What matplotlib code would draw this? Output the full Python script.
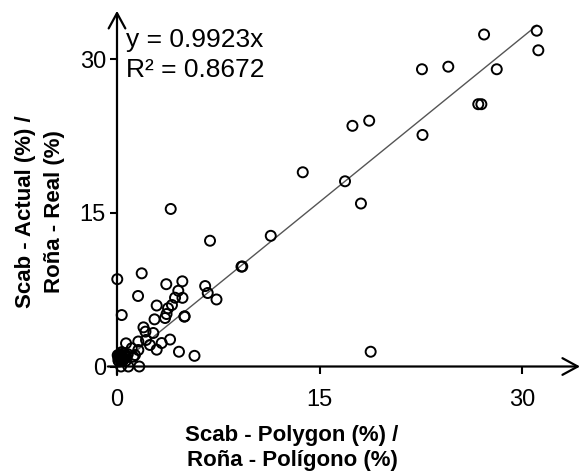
import matplotlib
matplotlib.use('Agg')
import matplotlib.pyplot as plt

# scab severity, polygon estimate vs actual (%)
polygon_pct = [27.19, 31.09, 31.21, 22.59, 24.54, 28.13, 26.76, 26.99, 18.68, 17.44,
               22.63, 13.76, 16.89, 18.07, 11.39, 18.79, 3.98, 6.89, 9.22, 9.28,
               0.02, 1.83, 3.65, 4.84, 6.53, 1.56, 4.54, 4.30, 4.85, 6.72,
               7.37, 4.07, 2.94, 0.35, 3.67, 3.78, 2.78, 3.56, 4.99, 5.01,
               1.96, 2.11, 2.69, 1.58, 2.15, 0.67, 2.44, 3.31, 3.93, 2.94,
               4.59, 5.74, 1.65, 0.84, 0.30, 1.21, 1.09, 1.33, 1.58,
               0.10, 0.20, 0.30, 0.40, 0.50, 0.15, 0.35, 0.60, 0.25, 0.45,
               0.05, 0.55, 0.20, 0.70, 0.30, 0.10, 0.80, 0.65]
actual_pct = [32.39, 32.76, 30.85, 29.00, 29.25, 29.00, 25.59, 25.59, 23.98, 23.48,
              22.59, 18.95, 18.07, 15.90, 12.75, 1.44, 15.37, 12.27, 9.74, 9.76,
              8.52, 9.09, 8.03, 8.31, 7.85, 6.88, 7.39, 6.71, 6.70, 7.17,
              6.54, 6.00, 5.95, 5.02, 5.12, 5.68, 4.60, 4.73, 4.86, 4.90,
              3.82, 3.40, 3.27, 2.44, 2.59, 2.26, 2.10, 2.29, 2.63, 1.64,
              1.44, 1.04, 0.00, 0.00, 0.00, 0.96, 1.78, 1.12, 1.61,
              0.90, 1.20, 0.70, 1.00, 0.80, 0.50, 1.40, 1.10, 0.95, 0.60,
              1.10, 1.30, 0.75, 0.90, 1.15, 0.60, 1.20, 0.55]

ticks = [0, 15, 30]
trend_slope = 1.07
trend_end = 31.1
eq_text = 'y = 0.9923x'
r2_text = 'R² = 0.8672'

plt.rcParams['font.family'] = ['Liberation Sans', 'DejaVu Sans']

W, H = 581, 476
fig = plt.figure(figsize=(W / 100, H / 100), dpi=100)
ax = fig.add_axes([0, 0, 1, 1])
ax.patch.set_alpha(0)

# pixel layout: origin at (117, 366.5), 13.5 px per unit in x, 10.25 in y
ox, oy, sx, sy = 117, 366.5, 13.5, 10.25
ax.set_xlim(-ox / sx, (W - ox) / sx)
ax.set_ylim(-(H - oy) / sy, oy / sy)

for s in ax.spines.values():
    s.set_visible(False)
ax.spines['bottom'].set_position(('data', 0))
ax.spines['left'].set_position(('data', 0))

ax.set_xticks(ticks)
ax.set_yticks(ticks)
ax.tick_params(axis='x', direction='out', length=5, width=1.5, labelsize=17, pad=11)
ax.tick_params(axis='y', direction='out', length=5, width=1.5, labelsize=17, pad=3)

arrow = dict(arrowstyle='->,head_length=1.1,head_width=0.6', lw=1.6, color='black',
             shrinkA=0, shrinkB=0)
ax.annotate('', xy=(34.3, 0), xytext=(-0.67, 0), arrowprops=arrow, annotation_clip=False)
ax.annotate('', xy=(0, 34.7), xytext=(0, -0.83), arrowprops=arrow, annotation_clip=False)

ax.plot([0, trend_end], [0, trend_slope * trend_end], color='#555555', lw=1.0, zorder=2)
ax.scatter(polygon_pct, actual_pct, s=52, facecolors='none', edgecolors='black',
           linewidths=1.4, zorder=3)

fig.text(126 / W, 1 - 46.7 / H, eq_text, fontsize=19, va='baseline')
fig.text(126 / W, 1 - 77.3 / H, r2_text, fontsize=19, va='baseline')

fig.text(292 / W, 1 - 448 / H, 'Scab - Polygon (%) /\nRoña - Polígono (%)',
         fontsize=16, fontweight='bold', ha='center', va='center', linespacing=1.3)
fig.text(40 / W, 1 - 212 / H, 'Scab - Actual (%) /\nRoña - Real (%)',
         fontsize=16, fontweight='bold', ha='center', va='center', rotation=90,
         linespacing=1.45)

fig.savefig('out.png', dpi=100)
